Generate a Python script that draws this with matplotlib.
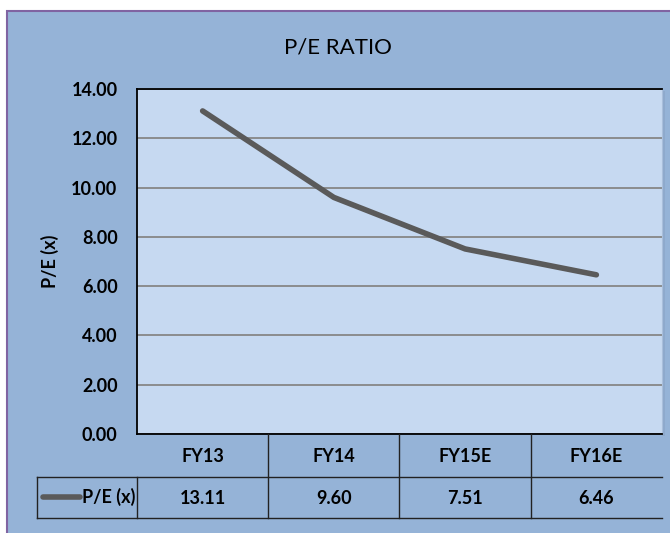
import matplotlib.pyplot as plt
from matplotlib.lines import Line2D
from matplotlib.patches import Rectangle
from matplotlib import transforms

years = ["FY13", "FY14", "FY15E", "FY16E"]
pe_ratio = [13.11, 9.60, 7.51, 6.46]
y_ticks = [0, 2, 4, 6, 8, 10, 12, 14]
series_name = "P/E (x)"

W, H = 670, 533
outer_bg = "#95b3d7"
plot_bg = "#c6d9f1"
line_col = "#5a5a5a"
fs = 13

plt.rcParams['font.family'] = ['Lato', 'DejaVu Sans']
plt.rcParams['font.weight'] = 'bold'

fig = plt.figure(figsize=(W / 100, H / 100), dpi=100)
fig.patch.set_facecolor("white")

def px(x, y):
    # pixel position (from the top-left) -> figure fraction
    return x / W, 1 - y / H

# chart background with purple frame
x0, y0 = px(7, 540)
x1, y1 = px(680, 11)
fig.add_artist(Rectangle((x0, y0), x1 - x0, y1 - y0, transform=fig.transFigure,
                         facecolor=outer_bg, edgecolor="#8064a2", linewidth=1.5, zorder=-10))

# plot area
left, top = px(137, 89)
right, bottom = px(662, 434)
# soft shadow on the right
fig.add_artist(Rectangle((right, bottom - 2 / H), 3 / W, top - bottom, transform=fig.transFigure,
                         facecolor="#8ea9cc", edgecolor="none", zorder=-5))
ax = fig.add_axes([left, bottom, right - left, top - bottom])
ax.set_facecolor(plot_bg)

xs = list(range(len(years)))
ax.plot(xs, pe_ratio, color=line_col, linewidth=4, solid_capstyle="round", zorder=3)

ax.set_xlim(-0.5, len(years) - 0.5)
ax.set_ylim(0, 14)
ax.set_yticks(y_ticks)
ax.set_yticklabels([f"{v:.2f}" for v in y_ticks], fontsize=fs)
ax.set_xticks([])
ax.tick_params(axis="y", length=0, pad=14)
ax.grid(axis="y", color="#868686", linewidth=1.3)
ax.set_axisbelow(True)
for side in ["left", "top", "bottom"]:
    ax.spines[side].set_color("black")
    ax.spines[side].set_linewidth(1.3)
ax.spines["right"].set_color("#a9bedb")

ax.set_ylabel("P/E (x)", fontsize=fs, fontweight="bold", labelpad=9)
fig.text(*px(338, 48), "P/E RATIO", ha="center", va="center", fontsize=16, fontweight="normal")

# data table below the axis: x in data coords, y in figure fraction
tr = transforms.blended_transform_factory(ax.transData, fig.transFigure)
_, r1 = px(0, 477)
_, r2 = px(0, 518)
_, hdr_y = px(0, 456)
_, val_y = px(0, 498)

for b in [0.5, 1.5, 2.5]:
    fig.add_artist(Line2D([b, b], [r2, bottom], transform=tr, color="#222222", linewidth=1))
fig.add_artist(Line2D([-0.5, -0.5], [r2, r1], transform=tr, color="#222222", linewidth=1))

lx0, _ = px(37, 0)
for ry in [r1, r2]:
    fig.add_artist(Line2D([lx0, right], [ry, ry], transform=fig.transFigure, color="#222222", linewidth=1))
fig.add_artist(Line2D([lx0, lx0], [r2, r1], transform=fig.transFigure, color="#222222", linewidth=1))

for i, (yr, v) in enumerate(zip(years, pe_ratio)):
    fig.text(i, hdr_y, yr, transform=tr, ha="center", va="center", fontsize=fs)
    fig.text(i, val_y, f"{v:.2f}", transform=tr, ha="center", va="center", fontsize=fs)

# legend key inside the table
kx0, ky = px(43, 497)
kx1, _ = px(80, 497)
fig.add_artist(Line2D([kx0, kx1], [ky, ky], transform=fig.transFigure,
                      color=line_col, linewidth=4, solid_capstyle="round"))
fig.text(*px(82, 497), series_name, ha="left", va="center", fontsize=fs)

fig.savefig("out.png", dpi=100, facecolor=fig.get_facecolor())
